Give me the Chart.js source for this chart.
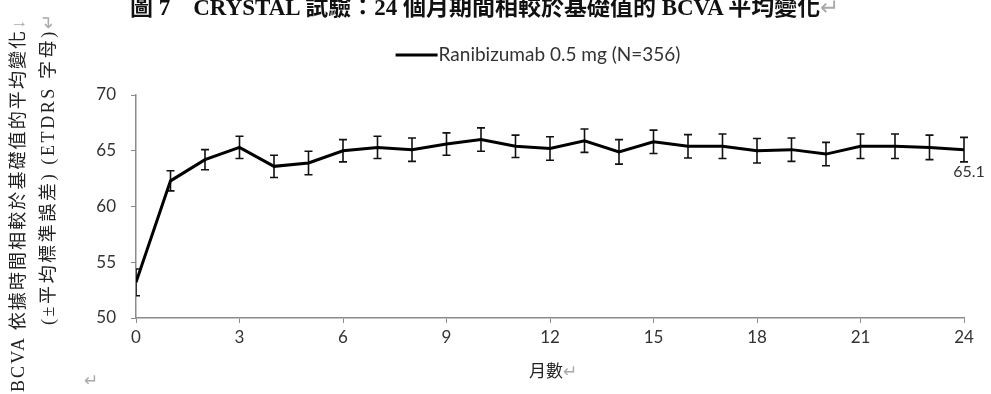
<!DOCTYPE html>
<html>
<head>
<meta charset="utf-8">
<script src="https://cdn.jsdelivr.net/npm/chart.js@4.4.1/dist/chart.umd.min.js"></script>
<style>
  html, body { margin: 0; padding: 0; background: #fff; }
  #wrap { position: relative; width: 991px; height: 394px; overflow: hidden; }
  #chartBox { position: absolute; left: 0; top: 0; width: 991px; height: 394px; }
  .title {
    position: absolute; left: 130px; top: -12px; white-space: nowrap;
    font: bold 23px "Liberation Serif", "Noto Sans CJK TC", serif; color: #111;
  }
  .ytitle {
    position: absolute; white-space: nowrap; transform: rotate(-90deg); transform-origin: left top;
    font: 18px "Liberation Serif", "Noto Sans CJK TC", serif; color: #222; line-height: 24px;
    letter-spacing: 2.6px;
  }
  .xtitle {
    position: absolute; left: 529px; top: 357px; white-space: nowrap;
    font: 17px "Noto Sans CJK TC", serif; color: #222;
  }
  .ret { color: #aaa; font-weight: normal; }
</style>
</head>
<body>
<div id="wrap">
  <div id="chartBox"><canvas id="myChart"></canvas></div>
  <div class="title">圖 7　CRYSTAL 試驗：24 個月期間相較於基礎值的 BCVA 平均變化<span class="ret">↵</span></div>
  <div class="ytitle" style="left:6px; top:392px; letter-spacing:2.1px;">BCVA 依據時間相較於基礎值的平均變化<span class="ret">↓</span></div>
  <div class="ytitle" style="left:36px; top:325px;">(±平均標準誤差) (ETDRS 字母)<span class="ret">↵</span></div>
  <div class="xtitle">月數<span class="ret">↵</span></div>
  <div class="xtitle" style="left:84px; top:366px;"><span class="ret">↵</span></div>
</div>
<script>
var seriesName = 'Ranibizumab 0.5 mg (N=356)';
var months = [0, 1, 2, 3, 4, 5, 6, 7, 8, 9, 10, 11, 12, 13, 14, 15, 16, 17, 18, 19, 20, 21, 22, 23, 24];
var meanBCVA = [53.2, 62.3, 64.2, 65.3, 63.6, 63.9, 65.0, 65.3, 65.1, 65.6, 66.0, 65.4, 65.2,
                65.9, 64.9, 65.8, 65.4, 65.4, 65.0, 65.1, 64.7, 65.4, 65.4, 65.3, 65.1];
var stdErr = [1.2, 0.9, 0.9, 1.0, 1.0, 1.05, 1.0, 1.0, 1.05, 1.0, 1.05, 1.0, 1.05,
              1.05, 1.1, 1.05, 1.05, 1.1, 1.1, 1.05, 1.05, 1.1, 1.1, 1.1, 1.1];
var yTicks = [50, 55, 60, 65, 70];
var xTicks = [0, 3, 6, 9, 12, 15, 18, 21, 24];

var tickFont = { family: 'Lato, "Open Sans", sans-serif', size: 17 };

// vertical error bars with caps, drawn under the line
var errorBars = {
  id: 'errorBars',
  beforeDatasetsDraw: function(chart) {
    var ctx = chart.ctx, xs = chart.scales.x, ys = chart.scales.y, area = chart.chartArea;
    ctx.save();
    ctx.beginPath();
    ctx.rect(area.left, area.top - 10, area.right - area.left + 10, area.bottom - area.top + 10);
    ctx.clip();
    ctx.strokeStyle = '#111';
    ctx.lineWidth = 1.6;
    for (var i = 0; i < months.length; i++) {
      var x = xs.getPixelForValue(months[i]);
      var hi = ys.getPixelForValue(meanBCVA[i] + stdErr[i]);
      var lo = ys.getPixelForValue(meanBCVA[i] - stdErr[i]);
      ctx.beginPath();
      ctx.moveTo(x, hi); ctx.lineTo(x, lo);
      ctx.moveTo(x - 4, hi); ctx.lineTo(x + 4, hi);
      ctx.moveTo(x - 4, lo); ctx.lineTo(x + 4, lo);
      ctx.stroke();
    }
    ctx.restore();
  }
};

// value label under the last point
var lastLabel = {
  id: 'lastLabel',
  afterDatasetsDraw: function(chart) {
    var ctx = chart.ctx, n = months.length - 1;
    var x = chart.scales.x.getPixelForValue(months[n]);
    var y = chart.scales.y.getPixelForValue(meanBCVA[n]);
    ctx.save();
    ctx.fillStyle = '#333';
    ctx.font = '16px Lato, sans-serif';
    ctx.textAlign = 'center';
    ctx.textBaseline = 'middle';
    ctx.fillText(meanBCVA[n].toFixed(1), x + 5, y + 22);
    ctx.restore();
  }
};

// single-entry legend: a short line then the series name, above the plot
var lineLegend = {
  id: 'lineLegend',
  afterDraw: function(chart) {
    var ctx = chart.ctx, ds = chart.data.datasets[0], area = chart.chartArea;
    ctx.save();
    ctx.font = '19px Lato, "Open Sans", sans-serif';
    var w = ctx.measureText(ds.label).width;
    var lineLen = 42, gap = 1;
    var x0 = (area.left + area.right) / 2 - 12 - (lineLen + gap + w) / 2;
    var y = area.top - 40;
    ctx.strokeStyle = ds.borderColor;
    ctx.lineWidth = ds.borderWidth;
    ctx.beginPath();
    ctx.moveTo(x0, y); ctx.lineTo(x0 + lineLen, y);
    ctx.stroke();
    ctx.fillStyle = '#333';
    ctx.textBaseline = 'middle';
    ctx.fillText(ds.label, x0 + lineLen + gap, y);
    ctx.restore();
  }
};

var ctx = document.getElementById('myChart');
var myChart = new Chart(ctx, {
  type: 'line',
  data: {
    datasets: [{
      label: seriesName,
      data: months.map(function(m, i) { return { x: m, y: meanBCVA[i] }; }),
      borderColor: '#000',
      backgroundColor: '#000',
      borderWidth: 3,
      pointRadius: 0,
      tension: 0
    }]
  },
  options: {
    responsive: true,
    maintainAspectRatio: false,
    animation: false,
    layout: { padding: { left: 70, right: 27, top: 95, bottom: 0 } },
    plugins: {
      title: { display: false },
      tooltip: { enabled: false },
      legend: { display: false }
    },
    scales: {
      x: {
        type: 'linear',
        min: 0,
        max: 24,
        afterBuildTicks: function(scale) { scale.ticks = xTicks.map(function(v) { return { value: v }; }); },
        afterFit: function(scale) { scale.height = 76; },
        grid: { drawOnChartArea: false, tickLength: 5, color: '#8c8c8c' },
        border: { color: '#8c8c8c', width: 1.5 },
        ticks: { color: '#333', font: tickFont, padding: 4, maxRotation: 0 }
      },
      y: {
        min: 50,
        max: 70,
        afterBuildTicks: function(scale) { scale.ticks = yTicks.map(function(v) { return { value: v }; }); },
        afterFit: function(scale) { scale.width = 66; },
        grid: { drawOnChartArea: false, tickLength: 5, color: '#8c8c8c' },
        border: { color: '#8c8c8c', width: 1.5 },
        ticks: { color: '#333', font: tickFont, padding: 15 }
      }
    }
  },
  plugins: [errorBars, lastLabel, lineLegend]
});
</script>
</body>
</html>
